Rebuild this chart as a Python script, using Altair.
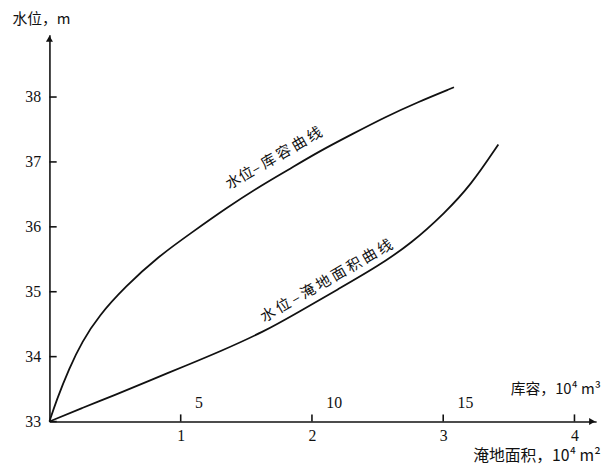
import altair as alt
import pandas as pd

# 水位–库容曲线 (库容, 10^4 m^3 ; 水位, m)
storage = [0.0, 0.26, 0.75, 1.24, 1.88, 2.89, 4.14, 5.38, 6.77, 8.16, 9.02, 10.26, 11.54, 12.78, 14.02, 15.41]
storage_level = [33.0, 33.32, 33.82, 34.23, 34.63, 35.08, 35.54, 35.90, 36.30, 36.66, 36.86, 37.16, 37.43, 37.69, 37.92, 38.15]

# 水位–淹地面积曲线 (淹地面积, 10^4 m^2 ; 水位, m)
area = [0.0, 0.25, 0.50, 0.75, 1.05, 1.30, 1.63, 1.90, 2.20, 2.50, 2.76, 3.01, 3.21, 3.42]
area_level = [33.0, 33.21, 33.41, 33.62, 33.87, 34.08, 34.38, 34.69, 35.04, 35.39, 35.75, 36.21, 36.64, 37.27]

# axis ticks
level_ticks = [33, 34, 35, 36, 37, 38]
area_ticks = [1, 2, 3, 4]
storage_ticks = [5, 10, 15]

# curve labels (placed in 淹地面积 / 水位 units)
label_text = ["水位–\u2009库\u2009容\u2009曲\u2009线", "水\u2009位\u2009–\u2009淹\u2009地\u2009面\u2009积\u2009曲\u2009线"]
label_area = [1.71, 2.11]
label_level = [37.06, 35.17]

Y_MIN, Y_MAX = 33, 38.96
A_MAX = 4.165
S_MAX = A_MAX * 5
W, H = 554, 392
TICK_LEVEL = 0.11   # inward tick length on the 水位 axis, in 水位 units
TICK_AREA = 0.055   # inward tick length on the 淹地面积 axis, in area units

NUM_FONT = "Liberation Serif"
CJK_FONT = "Noto Sans CJK SC"
INK = "#111111"

df_area = pd.DataFrame({"area": area, "level": area_level})
df_storage = pd.DataFrame({"storage": storage, "level": storage_level})
df_labels = pd.DataFrame({"area": label_area, "level": label_level, "text": label_text})
df_yarrow = pd.DataFrame({"area": [0.0], "level": [Y_MAX]})
df_xarrow = pd.DataFrame({"area": [A_MAX], "level": [Y_MIN]})
df_xticks = pd.DataFrame({"area": area_ticks,
                          "level": [Y_MIN] * len(area_ticks),
                          "level2": [Y_MIN + TICK_LEVEL] * len(area_ticks)})
df_yticks = pd.DataFrame({"area": [0.0] * len(level_ticks),
                          "area2": [TICK_AREA] * len(level_ticks),
                          "level": level_ticks})

y_scale = alt.Scale(domain=[Y_MIN, Y_MAX], nice=False, zero=False)

x_area = alt.X(
    "area:Q",
    scale=alt.Scale(domain=[0, A_MAX], nice=False, zero=False),
    axis=alt.Axis(
        orient="bottom", values=area_ticks, format="d", grid=False,
        ticks=False, labelPadding=6,
        labelFont=NUM_FONT, labelFontSize=16, labelColor=INK,
        domainColor=INK, domainWidth=1.6,
        title="淹地面积，10⁴ m²", titleFont=CJK_FONT, titleFontSize=16,
        titleFontWeight="normal", titleColor=INK,
        titleX=429, titleY=34, titleAlign="left", titleBaseline="middle",
    ),
)

y_left = alt.Y(
    "level:Q",
    scale=y_scale,
    axis=alt.Axis(
        orient="left", values=level_ticks, format="d", grid=False,
        ticks=False, labelPadding=9,
        labelFont=NUM_FONT, labelFontSize=16, labelColor=INK,
        domainColor=INK, domainWidth=1.6,
        title="水位，m", titleFont=CJK_FONT, titleFontSize=15,
        titleFontWeight="normal", titleColor=INK, titleAngle=0,
        titleX=-38, titleY=-16, titleAlign="left", titleBaseline="middle",
    ),
)

area_line = alt.Chart(df_area).mark_line(
    color=INK, strokeWidth=1.8, interpolate="basis"
).encode(x=x_area, y=y_left)

labels = alt.Chart(df_labels).mark_text(
    angle=330, font=CJK_FONT, fontSize=15, color=INK, align="center", baseline="middle"
).encode(x=x_area, y=y_left, text="text:N")

x_tick_marks = alt.Chart(df_xticks).mark_rule(
    color=INK, strokeWidth=1.6
).encode(x=x_area, y=y_left, y2="level2:Q")

y_tick_marks = alt.Chart(df_yticks).mark_rule(
    color=INK, strokeWidth=1.6
).encode(x=x_area, x2="area2:Q", y=y_left)

y_arrow = alt.Chart(df_yarrow).mark_point(
    shape="triangle-up", filled=True, size=50, color=INK, opacity=1, strokeWidth=0, yOffset=4
).encode(x=x_area, y=y_left)

x_arrow = alt.Chart(df_xarrow).mark_point(
    shape="triangle-right", filled=True, size=50, color=INK, opacity=1, strokeWidth=0, xOffset=-4
).encode(x=x_area, y=y_left)

layer_area = alt.layer(area_line, labels, x_tick_marks, y_tick_marks, y_arrow, x_arrow)

x_storage = alt.X(
    "storage:Q",
    scale=alt.Scale(domain=[0, S_MAX], nice=False, zero=False),
    axis=alt.Axis(
        orient="top", offset=-H, values=storage_ticks, format="d", grid=False,
        domain=False, ticks=False,
        labelPadding=11, labelAlign="left", labelOffset=14,
        labelFont=NUM_FONT, labelFontSize=16, labelColor=INK,
        title="库容，10⁴ m³", titleFont=CJK_FONT, titleFontSize=15,
        titleFontWeight="normal", titleColor=INK,
        titleX=467, titleY=-33, titleAlign="left", titleBaseline="middle",
    ),
)

storage_line = alt.Chart(df_storage).mark_line(
    color=INK, strokeWidth=1.8, interpolate="basis"
).encode(x=x_storage, y=y_left)

chart = alt.layer(layer_area, storage_line).resolve_scale(
    x="independent"
).properties(
    width=W, height=H,
    padding={"left": 42, "top": 24, "right": 9, "bottom": 44},
    autosize=alt.AutoSizeParams(type="none"),
    background="white",
).configure_view(strokeWidth=0)

chart.save("out.html", embed_options={"renderer": "svg", "actions": False})
